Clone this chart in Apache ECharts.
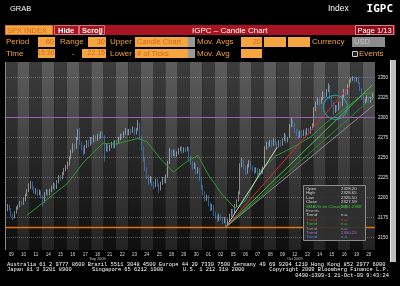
<!DOCTYPE html>
<html><head><meta charset="utf-8">
<script src="https://cdn.jsdelivr.net/npm/echarts@6/dist/echarts.min.js"></script>
<style>html,body{margin:0;padding:0;background:#000;}#c{width:400px;height:286px;}</style>
</head><body><div id="c"></div>
<script>
// ---------- data ----------
const dayDates = ['2009-09-09','2009-09-10','2009-09-11','2009-09-14','2009-09-15','2009-09-16','2009-09-17','2009-09-18',
  '2009-09-21','2009-09-22','2009-09-23','2009-09-24','2009-09-25','2009-09-28','2009-09-29','2009-09-30',
  '2009-10-01','2009-10-02','2009-10-05','2009-10-06','2009-10-07','2009-10-08','2009-10-09','2009-10-12',
  '2009-10-13','2009-10-14','2009-10-15','2009-10-16','2009-10-19','2009-10-20'];
const hours = ['15:30','16:30','17:30','18:30','19:30','20:30','21:30'];
const monthMarks = {'2009-09-18':'Sep 2009','2009-10-12':'Oct 2009'};
// [open, close, low, high]
const ohlc = [
[2186,2184,2181,2190],[2184,2189,2183,2192],[2189,2186,2184,2191],[2186,2178,2176,2187],[2178,2175,2172,2180],[2175,2181,2174,2183],[2181,2187,2180,2189],
[2187,2189,2185,2191],[2189,2194,2188,2196],[2194,2192,2190,2196],[2192,2198,2191,2200],[2198,2203,2196,2205],[2203,2209,2202,2211],[2209,2213,2207,2218],
[2213,2218,2211,2221],[2218,2212,2210,2220],[2212,2207,2205,2214],[2207,2210,2204,2212],[2210,2204,2202,2211],[2204,2208,2203,2210],[2208,2202,2199,2209],
[2202,2196,2189,2203],[2196,2205,2194,2207],[2205,2208,2203,2211],[2208,2204,2202,2210],[2204,2209,2203,2211],[2209,2213,2207,2215],[2213,2216,2211,2219],
[2216,2212,2209,2218],[2212,2220,2211,2222],[2220,2226,2218,2228],[2226,2224,2221,2228],[2224,2230,2223,2232],[2230,2235,2228,2237],[2235,2238,2233,2241],
[2238,2242,2236,2245],[2242,2250,2240,2252],[2250,2258,2248,2260],[2258,2266,2256,2268],[2266,2262,2259,2268],[2262,2274,2261,2276],[2274,2283,2272,2286],
[2283,2268,2266,2287],[2268,2262,2259,2270],[2262,2256,2253,2264],[2256,2264,2255,2266],[2264,2270,2262,2272],[2270,2266,2263,2272],[2266,2274,2265,2276],
[2274,2270,2267,2276],[2270,2276,2269,2278],[2276,2272,2270,2278],[2272,2278,2271,2280],[2278,2275,2273,2280],[2275,2280,2274,2283],[2280,2277,2275,2282],
[2277,2262,2245,2278],[2262,2266,2258,2268],[2266,2260,2257,2268],[2260,2264,2258,2266],[2264,2268,2262,2270],[2268,2263,2261,2270],[2263,2270,2262,2272],
[2270,2268,2265,2272],[2268,2274,2267,2276],[2274,2278,2272,2280],[2278,2276,2273,2280],[2276,2281,2275,2283],[2281,2284,2279,2287],[2284,2280,2278,2286],
[2280,2284,2278,2286],[2284,2282,2279,2286],[2282,2286,2281,2289],[2286,2280,2278,2288],[2280,2285,2279,2287],[2285,2292,2284,2297],[2292,2276,2273,2293],
[2276,2262,2259,2278],[2262,2248,2245,2264],[2248,2236,2233,2250],[2236,2226,2223,2238],[2226,2220,2216,2228],[2220,2224,2218,2227],[2224,2218,2214,2226],
[2218,2214,2211,2220],[2214,2222,2213,2224],[2222,2216,2214,2224],[2216,2210,2206,2218],[2210,2218,2209,2220],[2218,2224,2216,2226],[2224,2220,2218,2226],
[2220,2226,2218,2229],[2226,2244,2225,2246],[2244,2258,2242,2262],[2258,2254,2251,2260],[2254,2258,2252,2260],[2258,2252,2250,2260],[2252,2256,2251,2258],
[2256,2260,2254,2262],[2260,2262,2258,2264],[2262,2257,2255,2264],[2257,2261,2256,2263],[2261,2259,2257,2263],[2259,2262,2258,2264],[2262,2250,2246,2263],
[2250,2244,2241,2252],[2244,2238,2235,2246],[2238,2242,2236,2244],[2242,2232,2229,2243],[2232,2236,2230,2238],[2236,2224,2221,2237],[2224,2214,2210,2226],
[2214,2206,2203,2216],[2206,2198,2195,2208],[2198,2202,2196,2204],[2202,2192,2189,2203],[2192,2186,2183,2194],[2186,2190,2184,2192],[2190,2180,2177,2191],
[2180,2176,2173,2182],[2176,2172,2169,2178],[2172,2178,2171,2180],[2178,2174,2171,2179],[2174,2170,2167,2176],[2170,2174,2168,2176],[2174,2167,2163.5,2175],
[2167,2172,2165,2174],[2172,2178,2170,2180],[2178,2184,2176,2186],[2184,2181,2178,2186],[2181,2190,2180,2192],[2190,2196,2188,2198],[2196,2204,2195,2208],
[2206,2240,2204,2243],[2240,2246,2238,2250],[2246,2238,2235,2248],[2238,2232,2228,2240],[2232,2240,2230,2242],[2240,2244,2238,2247],[2244,2238,2235,2246],
[2238,2236,2233,2240],[2236,2232,2229,2238],[2232,2236,2231,2238],[2236,2230,2228,2237],[2230,2234,2229,2236],[2234,2231,2229,2236],[2231,2237,2230,2239],
[2238,2262,2237,2264],[2262,2268,2260,2270],[2268,2265,2262,2270],[2265,2270,2264,2272],[2270,2266,2263,2272],[2266,2272,2265,2274],[2272,2268,2265,2274],
[2268,2264,2261,2270],[2264,2270,2263,2272],[2270,2266,2264,2272],[2266,2272,2265,2274],[2272,2278,2271,2281],[2278,2270,2268,2279],[2270,2274,2269,2276],
[2276,2290,2275,2292],[2290,2296,2288,2300],[2296,2292,2289,2298],[2292,2284,2281,2294],[2284,2280,2277,2286],[2280,2276,2273,2282],[2276,2282,2275,2284],
[2282,2278,2275,2284],[2278,2283,2277,2285],[2283,2279,2276,2285],[2279,2285,2278,2287],[2285,2281,2279,2287],[2281,2287,2280,2289],[2287,2290,2285,2293],
[2290,2310,2289,2313],[2310,2318,2308,2320],[2318,2322,2316,2325],[2322,2318,2315,2324],[2318,2324,2317,2326],[2324,2330,2322,2333],[2330,2327,2324,2332],
[2327,2334,2326,2336],[2334,2340,2332,2343],[2340,2326,2323,2341],[2326,2318,2315,2328],[2318,2308,2303,2320],[2308,2314,2306,2316],[2314,2310,2307,2316],
[2310,2318,2309,2320],[2318,2316,2313,2320],[2316,2326,2315,2328],[2326,2334,2324,2336],[2334,2330,2327,2336],[2330,2340,2329,2342],[2340,2346,2338,2348],
[2346,2348,2344,2350],[2348,2350,2346,2352],[2350,2346,2344,2351],[2346,2349,2345,2351],[2349,2344,2342,2350],[2344,2336,2333,2345],[2336,2326,2322,2337],
[2326,2318,2316,2328],[2318,2322,2317,2324],[2322,2326,2320,2328],[2326,2320,2318,2327],[2320,2324,2319,2326],[2324,2328.2,2323,2331],[2328.2,2327.59,2326.5,2328.65]
];
// 20-period simple moving average on close, [bar index, value]
const maPoints = [[12,2178],[35,2218],[44,2244],[55,2268],[62,2267],[75,2274],[80,2270],[88,2248],[95,2232],[102,2244],[109,2253],
  [114,2232],[122,2206],[130,2187],[136,2196],[144,2232],[153,2252],[163,2263],[173,2276],[182,2294],[193,2312],[203,2330],[209,2331.24]];
const fanStart = [125, 2163.5];
const fanEnds = [[154,2263],[195,2339],[208,2341],[209,2327],[209,2316]];
const yTicks = [2150,2175,2200,2225,2250,2275,2300,2325,2350];
const yMin = 2134.6, yMax = 2369.6;
const purpleLevel = 2300.25, lowLevel = 2163.5;
const recentHigh = [[196,2351],[209,2351]];
const circlePoint = [187, 2313];
const maLast = 2331.24, lastClose = 2327.59;
const infoRows = [['Open','2328.20'],['High','2328.65'],['Low','2326.50'],['Close','2327.59'],['SMAVG on Close(20)','2331.2388'],
  ['Events',''],['Trend','n.a.'],['Trend','n.a.'],['Trend','n.a.'],['Trend','n.a.'],['Trend','2300.25'],['Trend','n.a.']];

// ---------- styles ----------
const fanColors = ['#cfcfcf','#d02828','#3cc83c','#2a8a2a','#8a8a8a'];
const infoColors = ['#d8d8d8','#d8d8d8','#d8d8d8','#d8d8d8','#33c633','#bdbdbd','#d0d0d0','#e03030','#33c633','#9a9a9a','#b070c8','#4a90e8'];
const barsPerDay = hours.length;
const categories = [];
dayDates.forEach(d => hours.forEach(h => categories.push(d + ' ' + h)));
const dayStarts = dayDates.map((d, i) => [i * barsPerDay, yMax]);

const lightStops = [{offset:0,color:'#5c5c5c'},{offset:0.45,color:'#424242'},{offset:1,color:'#222222'}];
const darkStops = [{offset:0,color:'#3c3c3c'},{offset:0.45,color:'#282828'},{offset:1,color:'#0e0e0e'}];

const G = [];
const SANS = '"Liberation Sans", Arial, sans-serif';
function rect(x,y,w,h,fill,stroke){G.push({type:'rect',silent:true,z:100,shape:{x:x,y:y,width:w,height:h},style:{fill:fill,stroke:stroke||null,lineWidth:stroke?1:0}});}
function txt(t,x,y,fill,font,align){G.push({type:'text',silent:true,z:101,x:x,y:y,style:{text:t,fill:fill,font:font,align:align||'left',textAlign:align||'left',verticalAlign:'middle',textVerticalAlign:'middle'}});}
const AMB = '#f2a43c', FLD = '#f6a640', FTX = '#cf6a1c', RED = '#a81420';
txt('GRAB',10,9,'#ffffff','7.5px '+SANS);
txt('Index',328,9,'#ffffff','8.5px '+SANS);
txt('IGPC',393,9,'#ffffff','bold 11px "DejaVu Sans Mono", monospace','right');
rect(5,25,390,10,RED);
rect(5.5,25.5,47,9,FLD,'#d07a20');
txt('SPX INDEX',7,30.5,FTX,'7.5px '+SANS);
rect(54.5,25.5,24,9,RED,'#d86a7a');
txt('Hide',58,30.5,'#ffffff','bold 7.5px '+SANS);
rect(79.5,25.5,25,9,RED,'#d86a7a');
txt('Scroll',82,30.5,'#ffffff','bold 7.5px '+SANS);
G.push({type:'polygon',silent:true,z:101,shape:{points:[[99,33],[102,33],[100.5,35]]},style:{fill:'#ffffff'}});
txt('IGPC \u2013 Candle Chart',192,30.5,'#ffffff','8px '+SANS);
rect(355.5,25.5,38,9,'#8a0c18','#e07a88');
txt('Page 1/13',374.5,30.5,'#ffffff','7.5px '+SANS,'center');
// row 2
txt('Period',6,42,AMB,'8px '+SANS);
rect(38,37,17,10,FLD); txt('60',54,42,FTX,'7.5px '+SANS,'right');
txt('Range',60,42,AMB,'8px '+SANS);
rect(88,37,18,10,FLD); txt('30',105,42,FTX,'7.5px '+SANS,'right');
txt('Upper',110,42,AMB,'8px '+SANS);
rect(135,37,53,10,FLD); rect(188,37,7,10,'#9a9a9a'); txt('Candle Chart',137,42,FTX,'7.5px '+SANS);
txt('Mov. Avgs',197,42,AMB,'8px '+SANS);
rect(241,37,21,10,FLD); txt('20',261,42,FTX,'7.5px '+SANS,'right');
rect(264,37,22,10,FLD); rect(288,37,22,10,FLD);
txt('Currency',312,42,AMB,'8px '+SANS);
rect(352,37,33,10,'#8c8c8c'); txt('USD',354,42,'#c4c4c4','7.5px '+SANS);
// row 3
txt('Time',6,53.5,AMB,'8px '+SANS);
rect(38,49,17,9,FLD); txt('15:30',54.5,53.5,FTX,'7px '+SANS,'right');
txt('-',72,53.5,AMB,'8px '+SANS);
rect(82,49,24,9,FLD); txt('22:15',105,53.5,FTX,'7px '+SANS,'right');
txt('Lower',110,53.5,AMB,'8px '+SANS);
rect(135,49,53,9,FLD); rect(188,49,7,9,'#9a9a9a'); txt('# of Ticks',137,53.5,FTX,'7.5px '+SANS);
txt('Mov. Avg',197,53.5,AMB,'8px '+SANS);
rect(241,49,21,9,FLD);
rect(352.5,51.5,5,5,'#222','#c8c8c8');
txt('Events',359,53.5,AMB,'8px '+SANS);
// plot frame & scrollbar
G.push({type:'line',silent:true,z:100,shape:{x1:5.5,y1:62,x2:5.5,y2:250},style:{stroke:'#8a8a8a',lineWidth:1}});
rect(390,60,6,202,'#bdbdbd');
G.push({type:'line',silent:true,z:101,shape:{x1:390.5,y1:60,x2:390.5,y2:262},style:{stroke:'#e8e8e8',lineWidth:1}});
// info box
rect(303.5,185.5,62,55,'rgba(48,48,48,0.93)','#8c8c8c');
infoRows.forEach((r,i) => {
  txt(r[0],306,188.8+i*4.4,infoColors[i],'4.3px '+SANS);
  if (r[1]) txt(r[1],341,188.8+i*4.4,infoColors[i],'4.3px '+SANS);
});
// footer
const MONO = '5.4px "Liberation Mono", monospace';
txt('Australia 61 2 9777 8600 Brazil 5511 3048 4500 Europe 44 20 7330 7500 Germany 49 69 9204 1210 Hong Kong 852 2977 6000',7,264.5,'#ffffff',MONO);
txt('Japan 81 3 3201 8900',7,270,'#ffffff',MONO);
txt('Singapore 65 6212 1000',92,270,'#ffffff',MONO);
txt('U.S. 1 212 318 2000',183,270,'#ffffff',MONO);
txt('Copyright 2009 Bloomberg Finance L.P.',389,270,'#ffffff',MONO,'right');
txt('0490-1309-1 21-Oct-09 9:43:24',389,275.5,'#ffffff',MONO,'right');

function hLine(value, color, width, type){
  return {silent:true, symbol:['none','none'], animation:false, label:{show:false},
    lineStyle:{color:color, width:width, type:type||'solid', opacity:1}, data:[{yAxis:value}]};
}

const chart = echarts.init(document.getElementById('c'), null, {renderer:'canvas'});
const series = [
  {type:'custom', z:0, silent:true, data:dayStarts, encode:{x:0,y:1},
   renderItem:function(params, api){
     const cs = params.coordSys;
     const bw = api.size([1,0])[0];
     const x0 = api.coord([api.value(0), yMax])[0] - bw/2;
     const light = params.dataIndex % 2 === 1;
     return {type:'rect', shape:{x:x0, y:cs.y, width:bw*barsPerDay, height:cs.height},
       style:{fill:new echarts.graphic.LinearGradient(0,0,0,1, light?lightStops:darkStops)}};
   }},
  {type:'candlestick', data:ohlc, barWidth:'72%', z:2, silent:true,
   itemStyle:{color:'#cfcfcf', color0:'#3a8ee8', borderColor:'#cfcfcf', borderColor0:'#3a8ee8', borderWidth:0.6},
   markLine:{silent:true, symbol:['none','none'], animation:false,
     lineStyle:{color:'rgba(175,175,175,0.45)', type:'dotted', width:1},
     label:{position:'end', color:'#e8e8e8', fontSize:4.5, distance:3, fontFamily:'Liberation Sans', formatter:p=>String(p.value)},
     data: yTicks.map(v=>({yAxis:v}))}},
  {type:'line', data:maPoints, symbol:'none', z:3, silent:true, lineStyle:{color:'#2e9a2e', width:1},
   markLine:{silent:true, symbol:['none','none'], animation:false, lineStyle:{opacity:0},
     label:{position:'end', distance:0, color:'#000', fontSize:4.5, padding:[0,1.5], fontFamily:'Liberation Sans', formatter:p=>p.value.toFixed(2)},
     data:[{yAxis:maLast, label:{backgroundColor:'#35d035'}}, {yAxis:lastClose, label:{backgroundColor:'#f0f0f0'}}]}},
  {type:'scatter', data:[circlePoint], symbol:'circle', symbolSize:24, z:4, silent:true,
   itemStyle:{color:'rgba(0,0,0,0)', borderColor:'#1fa5a5', borderWidth:1.2}}
];
fanEnds.forEach((e,i) => series.push({type:'line', data:[fanStart, e], symbol:'none', z:3, silent:true, lineStyle:{color:fanColors[i], width:1}}));
series[4].markLine = hLine(purpleLevel, '#9a62b0', 1.2);
series[5].markLine = hLine(lowLevel, '#e07010', 1.3);
series[6].markLine = {silent:true, symbol:['none','none'], animation:false, label:{show:false},
  lineStyle:{color:'#4a70c8', width:1, type:'dotted'}, data:[[{coord:recentHigh[0]},{coord:recentHigh[1]}]]};

chart.setOption({
  backgroundColor:'#000',
  animation:false,
  grid:{left:5, right:25, top:62, bottom:36},
  xAxis:{type:'category', data:categories, boundaryGap:true,
    axisLine:{show:false}, axisTick:{show:false}, splitLine:{show:false},
    axisLabel:{interval:(i)=> i % barsPerDay === 3, margin:2.5, color:'#d8d8d8', fontSize:4.5, lineHeight:4.6, fontFamily:'Liberation Sans',
      formatter:function(v){ const d = v.slice(8,10); const m = monthMarks[v.slice(0,10)]; return '{d|'+d+'}' + (m ? '\n{m|'+m+'}' : ''); },
      rich:{d:{fontSize:4.5, color:'#d8d8d8', lineHeight:4.6}, m:{fontSize:3.8, color:'#c8c8c8', lineHeight:4.4}}}},
  yAxis:{type:'value', min:yMin, max:yMax, show:false},
  graphic:G,
  series:series
});
</script>
</body></html>
